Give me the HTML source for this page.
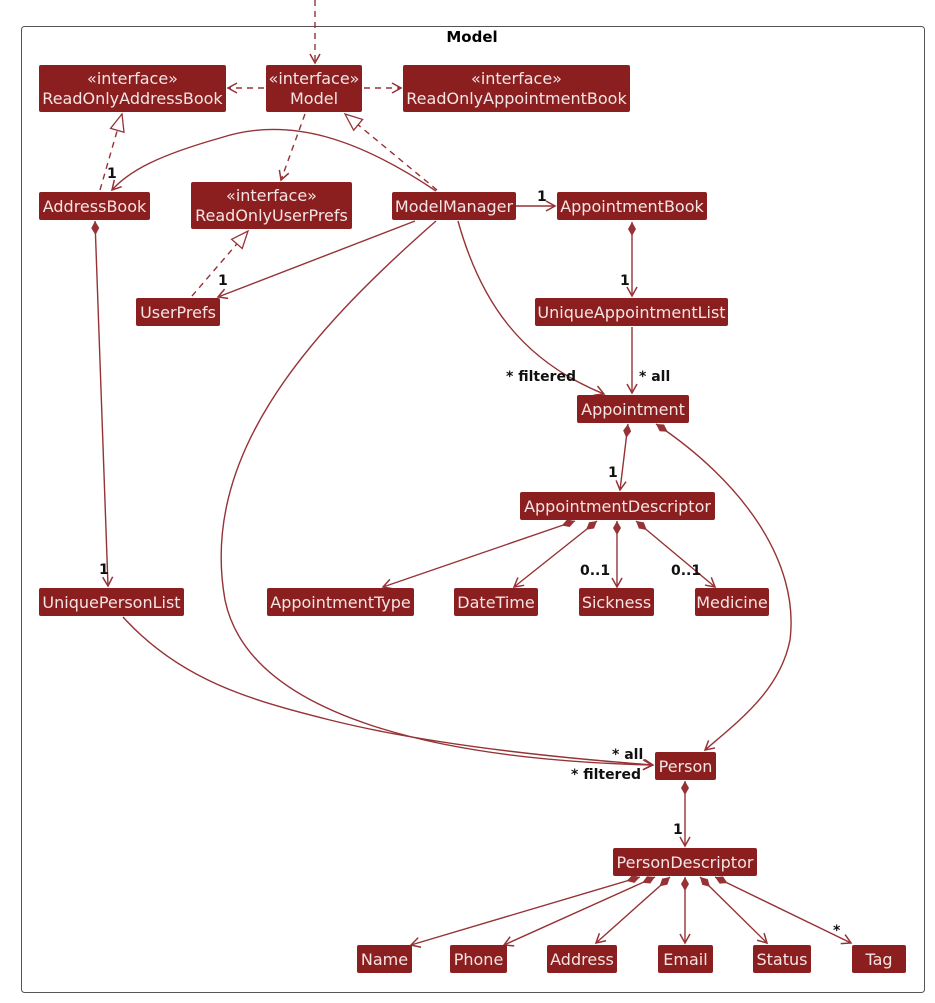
<!DOCTYPE html>
<html><head><meta charset="utf-8"><style>
html,body{margin:0;padding:0;background:#fff;}
svg{display:block;}
.b{fill:#8B1F1F;}
.t{fill:#f4e4e4;font-family:"DejaVu Sans","Liberation Sans",sans-serif;font-size:16px;text-anchor:middle;}
.l{fill:none;stroke:#963236;stroke-width:1.4;}
.d{stroke-dasharray:6,5;}
.m{fill:#111;font-family:"DejaVu Sans","Liberation Sans",sans-serif;font-size:14px;font-weight:bold;}
</style></head><body>
<svg width="935" height="1003" viewBox="0 0 935 1003" xmlns="http://www.w3.org/2000/svg">
<defs>
<marker id="a" markerWidth="12" markerHeight="12" refX="10" refY="6" orient="auto" markerUnits="userSpaceOnUse"><path d="M1,1 L10,6 L1,11" fill="none" stroke="#963236" stroke-width="1.5"/></marker>
<marker id="tri" markerWidth="20" markerHeight="20" refX="18" refY="10" orient="auto" markerUnits="userSpaceOnUse"><path d="M1,3 L18,10 L1,17 Z" fill="#fff" stroke="#963236" stroke-width="1.3"/></marker>
<marker id="dm" markerWidth="20" markerHeight="12" refX="1" refY="6" orient="auto" markerUnits="userSpaceOnUse"><path d="M1,6 L8,2 L15,6 L8,10 Z" fill="#963236"/></marker>
</defs>
<rect x="21.5" y="26.5" width="903" height="966" rx="3" fill="#fff" stroke="#555" stroke-width="1"/>
<text x="472" y="42" font-family="DejaVu Sans,Liberation Sans,sans-serif" font-size="15" font-weight="bold" text-anchor="middle">Model</text>

<path class="l d" d="M315,0 L315,63" marker-end="url(#a)"/>
<path class="l d" d="M264,88 L228,88" marker-end="url(#a)"/>
<path class="l d" d="M364,88 L401,88" marker-end="url(#a)"/>
<path class="l d" d="M100,190 L122,114" marker-end="url(#tri)"/>
<path class="l d" d="M305,114 L281,180" marker-end="url(#a)"/>
<path class="l d" d="M437,190 L345,114" marker-end="url(#tri)"/>
<path class="l d" d="M192,296 L248,231" marker-end="url(#tri)"/>
<path class="l" d="M436,191 C360,140 290,115 220,138 C160,155 130,170 112,190" marker-end="url(#a)"/>
<path class="l" d="M516,206 L555,206" marker-end="url(#a)"/>
<path class="l" d="M415,221 L218,297" marker-end="url(#a)"/>
<path class="l" d="M458,221 C480,300 520,360 604,394" marker-end="url(#a)"/>
<path class="l" d="M632,222 L632,296" marker-start="url(#dm)" marker-end="url(#a)"/>
<path class="l" d="M632,327 L632,393" marker-end="url(#a)"/>
<path class="l" d="M628,424 L620,490" marker-start="url(#dm)" marker-end="url(#a)"/>
<path class="l" d="M95,221 L108,586" marker-start="url(#dm)" marker-end="url(#a)"/>
<path class="l" d="M436,221 C300,340 200,460 225,600 C250,720 450,760 652,765" marker-end="url(#a)"/>
<path class="l" d="M123,617 C180,680 250,700 330,720 C430,745 560,758 653,765" marker-end="url(#a)"/>
<path class="l" d="M656,424 C740,480 800,560 790,640 C780,690 740,720 705,750" marker-start="url(#dm)" marker-end="url(#a)"/>
<path class="l" d="M575,521 L383,587" marker-start="url(#dm)" marker-end="url(#a)"/>
<path class="l" d="M597,521 L514,587" marker-start="url(#dm)" marker-end="url(#a)"/>
<path class="l" d="M617,521 L617,587" marker-start="url(#dm)" marker-end="url(#a)"/>
<path class="l" d="M636,521 L715,587" marker-start="url(#dm)" marker-end="url(#a)"/>
<path class="l" d="M685,781 L685,846" marker-start="url(#dm)" marker-end="url(#a)"/>
<path class="l" d="M640,877 L411,945" marker-start="url(#dm)" marker-end="url(#a)"/>
<path class="l" d="M655,877 L504,945" marker-start="url(#dm)" marker-end="url(#a)"/>
<path class="l" d="M670,877 L596,943" marker-start="url(#dm)" marker-end="url(#a)"/>
<path class="l" d="M685,877 L685,943" marker-start="url(#dm)" marker-end="url(#a)"/>
<path class="l" d="M700,877 L767,943" marker-start="url(#dm)" marker-end="url(#a)"/>
<path class="l" d="M715,877 L851,943" marker-start="url(#dm)" marker-end="url(#a)"/>

<text class="m" x="107" y="178">1</text>
<text class="m" x="537" y="201">1</text>
<text class="m" x="218" y="285">1</text>
<text class="m" x="620" y="285">1</text>
<text class="m" x="506" y="381">* filtered</text>
<text class="m" x="639" y="381">* all</text>
<text class="m" x="608" y="477">1</text>
<text class="m" x="99" y="574">1</text>
<text class="m" x="580" y="575">0..1</text>
<text class="m" x="671" y="575">0..1</text>
<text class="m" x="612" y="759">* all</text>
<text class="m" x="571" y="779">* filtered</text>
<text class="m" x="673" y="834">1</text>
<text class="m" x="833" y="935">*</text>

<rect class="b" x="39" y="65" width="187" height="47" rx="2"/><text class="t" x="132.5" y="84">«interface»</text><text class="t" x="132.5" y="104">ReadOnlyAddressBook</text>
<rect class="b" x="266" y="65" width="96" height="47" rx="2"/><text class="t" x="314" y="84">«interface»</text><text class="t" x="314" y="104">Model</text>
<rect class="b" x="403" y="65" width="227" height="47" rx="2"/><text class="t" x="516.5" y="84">«interface»</text><text class="t" x="516.5" y="104">ReadOnlyAppointmentBook</text>
<rect class="b" x="39" y="192" width="111" height="28" rx="2"/><text class="t" x="94.5" y="212">AddressBook</text>
<rect class="b" x="191" y="182" width="161" height="47" rx="2"/><text class="t" x="271.5" y="201">«interface»</text><text class="t" x="271.5" y="221">ReadOnlyUserPrefs</text>
<rect class="b" x="392" y="192" width="124" height="28" rx="2"/><text class="t" x="454" y="212">ModelManager</text>
<rect class="b" x="557" y="192" width="150" height="28" rx="2"/><text class="t" x="632" y="212">AppointmentBook</text>
<rect class="b" x="136" y="298" width="84" height="28" rx="2"/><text class="t" x="178" y="318">UserPrefs</text>
<rect class="b" x="535" y="298" width="193" height="28" rx="2"/><text class="t" x="631.5" y="318">UniqueAppointmentList</text>
<rect class="b" x="577" y="395" width="112" height="28" rx="2"/><text class="t" x="633" y="415">Appointment</text>
<rect class="b" x="520" y="492" width="195" height="28" rx="2"/><text class="t" x="617.5" y="512">AppointmentDescriptor</text>
<rect class="b" x="267" y="588" width="147" height="28" rx="2"/><text class="t" x="340.5" y="608">AppointmentType</text>
<rect class="b" x="454" y="588" width="84" height="28" rx="2"/><text class="t" x="496" y="608">DateTime</text>
<rect class="b" x="579" y="588" width="75" height="28" rx="2"/><text class="t" x="616.5" y="608">Sickness</text>
<rect class="b" x="695" y="588" width="74" height="28" rx="2"/><text class="t" x="732" y="608">Medicine</text>
<rect class="b" x="39" y="588" width="145" height="28" rx="2"/><text class="t" x="111.5" y="608">UniquePersonList</text>
<rect class="b" x="655" y="752" width="61" height="28" rx="2"/><text class="t" x="685.5" y="772">Person</text>
<rect class="b" x="613" y="848" width="144" height="28" rx="2"/><text class="t" x="685" y="868">PersonDescriptor</text>
<rect class="b" x="357" y="945" width="55" height="28" rx="2"/><text class="t" x="384.5" y="965">Name</text>
<rect class="b" x="450" y="945" width="57" height="28" rx="2"/><text class="t" x="478.5" y="965">Phone</text>
<rect class="b" x="547" y="945" width="70" height="28" rx="2"/><text class="t" x="582" y="965">Address</text>
<rect class="b" x="658" y="945" width="55" height="28" rx="2"/><text class="t" x="685.5" y="965">Email</text>
<rect class="b" x="753" y="945" width="58" height="28" rx="2"/><text class="t" x="782" y="965">Status</text>
<rect class="b" x="852" y="945" width="54" height="28" rx="2"/><text class="t" x="879" y="965">Tag</text>
</svg>
</body></html>
